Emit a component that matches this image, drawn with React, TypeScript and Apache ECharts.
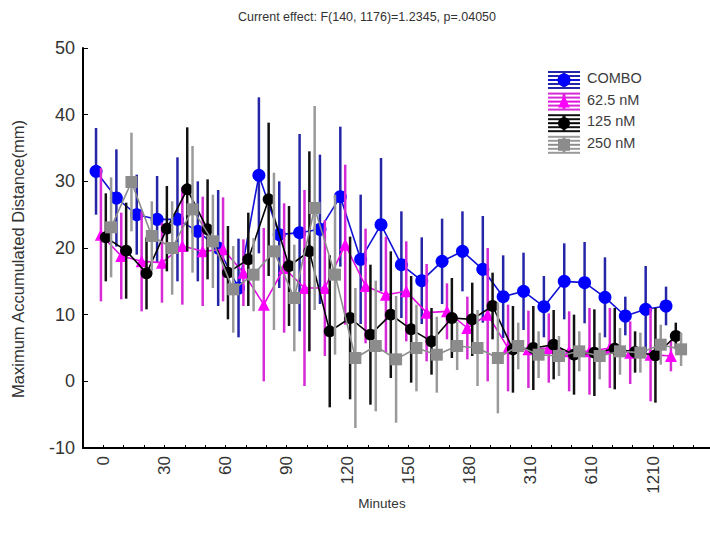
import React, { useEffect, useRef } from 'react';
import * as echarts from 'echarts';

// Time points (minutes); every third one is labelled on the axis
const minutes = ['0', '10', '20', '30', '40', '50', '60', '70', '80', '90', '100', '110', '120', '130', '140', '150', '160', '170', '180', '210', '250', '310', '410', '510', '610', '810', '1010', '1210', '1410'];

const yTicks = [-10, 0, 10, 20, 30, 40, 50];

const comboMean = [31.5, 27.5, 25.0, 24.3, 24.3, 22.5, 20.0, 14.0, 30.9, 22.0, 22.3, 22.8, 27.7, 18.3, 23.5, 17.5, 15.1, 18.0, 19.5, 16.8, 12.7, 13.5, 11.2, 15.0, 14.8, 12.6, 9.8, 10.8, 11.3];
const comboErr = [6.5, 7.3, 6.0, 6.5, 9.3, 7.5, 8.7, 7.4, 11.7, 8.0, 14.8, 11.2, 10.5, 9.7, 10.0, 8.0, 6.5, 6.4, 6.0, 8.0, 6.2, 5.8, 4.6, 5.7, 6.1, 6.0, 2.9, 6.5, 2.9];

const nm62Mean = [22.0, 18.8, 18.0, 17.8, 20.3, 19.5, 19.8, 16.3, 11.5, 17.0, 14.0, 14.0, 20.5, 14.3, 13.0, 13.5, 10.3, 10.5, 8.0, 10.0, 5.0, 4.8, 5.0, 4.5, 4.5, 5.0, 4.3, 4.0, 3.8];
const nm62Err = [10.0, 6.5, 7.5, 6.0, 8.8, 8.2, 7.8, 5.0, 11.5, 9.7, 14.7, 10.2, 12.0, 8.6, 8.7, 7.5, 7.3, 4.2, 4.7, 10.0, 6.5, 5.8, 5.2, 6.0, 6.5, 6.0, 4.7, 7.0, 2.3];

const nm125Mean = [21.6, 19.6, 16.2, 22.9, 28.8, 22.8, 16.3, 18.3, 27.3, 17.3, 19.5, 7.5, 9.5, 7.0, 10.0, 7.8, 6.0, 9.5, 9.3, 11.3, 4.8, 5.0, 5.5, 4.0, 4.3, 4.9, 4.4, 3.9, 6.8];
const nm125Err = [6.6, 7.2, 5.4, 6.4, 9.3, 7.5, 7.0, 7.0, 11.5, 9.0, 15.0, 11.4, 12.2, 10.5, 9.5, 8.0, 5.0, 6.0, 5.5, 5.0, 6.5, 6.3, 5.2, 6.0, 6.5, 6.1, 3.1, 7.1, 2.0];

const nm250Mean = [23.1, 29.9, 21.8, 20.0, 25.8, 21.0, 13.8, 16.0, 19.5, 12.5, 26.0, 16.0, 3.5, 5.3, 3.3, 5.0, 4.0, 5.3, 5.0, 3.5, 5.3, 4.0, 3.8, 4.5, 3.8, 4.5, 4.3, 5.5, 4.8];
const nm250Err = [7.5, 7.4, 5.2, 7.0, 9.5, 7.0, 6.5, 5.5, 11.8, 8.0, 15.3, 12.0, 10.5, 9.8, 9.5, 6.5, 5.7, 3.6, 5.7, 8.3, 3.5, 3.5, 3.0, 3.0, 3.5, 3.5, 3.0, 3.0, 2.5];

const FONT = 'Liberation Sans, Arial, Helvetica, sans-serif';

type Group = {
  name: string;
  mean: number[];
  err: number[];
  shift: number;
  symbol: string;
  size: number;
  marker: string;
  line: string;
  bar: string;
};

const groups: Group[] = [
  { name: 'COMBO', mean: comboMean, err: comboErr, shift: -0.36, symbol: 'circle', size: 13, marker: '#0000ff', line: '#1010d8', bar: '#2525a8' },
  { name: '62.5 nM', mean: nm62Mean, err: nm62Err, shift: -0.12, symbol: 'triangle', size: 12, marker: '#ff00ff', line: '#e010e0', bar: '#d52ad5' },
  { name: '125 nM', mean: nm125Mean, err: nm125Err, shift: 0.12, symbol: 'circle', size: 12, marker: '#000000', line: '#000000', bar: '#111111' },
  { name: '250 nM', mean: nm250Mean, err: nm250Err, shift: 0.38, symbol: 'rect', size: 12, marker: '#8c8c8c', line: '#8c8c8c', bar: '#9a9a9a' },
];

function buildLegend() {
  const out: any[] = [];
  groups.forEach((g, k) => {
    const ty = 78 + k * 21.6;
    const cy = ty + 2;
    [-8, -4, 0, 4, 8].forEach((d) => {
      out.push({
        type: 'line',
        shape: { x1: 548, y1: cy + d, x2: 580, y2: cy + d },
        style: { stroke: d === 0 ? g.line : g.bar, lineWidth: 2 },
      });
    });
    out.push({
      type: 'line',
      shape: { x1: 564, y1: cy - 8, x2: 564, y2: cy + 8 },
      style: { stroke: g.bar, lineWidth: 3 },
    });
    if (g.symbol === 'circle') {
      out.push({ type: 'circle', shape: { cx: 564, cy, r: g.size / 2 }, style: { fill: g.marker } });
    } else if (g.symbol === 'rect') {
      out.push({ type: 'rect', shape: { x: 564 - g.size / 2, y: cy - g.size / 2, width: g.size, height: g.size }, style: { fill: g.marker } });
    } else {
      const h = g.size / 2;
      out.push({ type: 'polygon', shape: { points: [[564, cy - h], [564 + h, cy + h], [564 - h, cy + h]] }, style: { fill: g.marker } });
    }
    out.push({
      type: 'text',
      x: 587,
      y: ty,
      style: { text: g.name, fontSize: 14.5, fontFamily: FONT, fill: '#3c3c3c', verticalAlign: 'middle', align: 'left' },
    });
  });
  return out;
}

export default function App() {
  const ref = useRef<HTMLDivElement>(null);

  useEffect(() => {
    const chart = echarts.init(ref.current!, undefined, { renderer: 'svg' });

    const series: any[] = [];
    groups.forEach((g, k) => {
      series.push({
        type: 'custom',
        name: g.name + ' CI',
        silent: true,
        z: 2 + k * 2,
        encode: { x: 0, y: [1, 2] },
        data: g.mean.map((m, i) => [i, m - g.err[i], m + g.err[i]]),
        renderItem: (_params: any, api: any) => {
          const x = api.value(0) + g.shift;
          const a = api.coord([x, api.value(1)]);
          const b = api.coord([x, api.value(2)]);
          return {
            type: 'line',
            shape: { x1: a[0], y1: a[1], x2: b[0], y2: b[1] },
            style: { stroke: g.bar, lineWidth: 2.5 },
          };
        },
      });
      series.push({
        type: 'line',
        name: g.name,
        z: 3 + k * 2,
        data: g.mean.map((m, i) => [i + g.shift, m]),
        symbol: g.symbol,
        symbolSize: g.size,
        showAllSymbol: true,
        itemStyle: { color: g.marker },
        lineStyle: { color: g.line, width: 1.6 },
      });
    });

    const option: any = {
      animation: false,
      backgroundColor: '#ffffff',
      textStyle: { fontFamily: FONT },
      grid: { left: 83, top: 48, right: 0, bottom: 91, containLabel: false },
      xAxis: {
        type: 'value',
        min: -1,
        max: 29.8,
        interval: 1,
        axisLine: { show: true, onZero: false, lineStyle: { color: '#000', width: 2 } },
        axisTick: { show: true, inside: true, length: 3, lineStyle: { color: '#000', width: 1 } },
        axisLabel: {
          rotate: 90,
          fontSize: 17,
          color: '#333',
          margin: 8,
          fontFamily: FONT,
          formatter: (v: number) => {
            const i = Math.round(v);
            if (Math.abs(v - i) > 1e-6 || i < 0 || i % 3 !== 0 || i >= minutes.length) return '';
            return minutes[i];
          },
        },
        splitLine: { show: false },
      },
      yAxis: {
        type: 'value',
        min: yTicks[0],
        max: yTicks[yTicks.length - 1],
        interval: 10,
        axisLine: { show: true, onZero: false, lineStyle: { color: '#000', width: 2 } },
        axisTick: { show: true, inside: true, length: 5, lineStyle: { color: '#000', width: 1 } },
        axisLabel: { fontSize: 18, color: '#333', margin: 8, fontFamily: FONT },
        splitLine: { show: false },
      },
      graphic: [
        {
          type: 'text',
          x: 367,
          y: 17,
          style: { text: 'Current effect: F(140, 1176)=1.2345, p=.04050', fontSize: 12.5, fontFamily: FONT, fill: '#333', align: 'center', verticalAlign: 'middle' },
        },
        {
          type: 'text',
          x: 18,
          y: 259,
          rotation: Math.PI / 2,
          style: { text: 'Maximum Accumulated Distance(mm)', fontSize: 16.5, fontFamily: FONT, fill: '#333', align: 'center', verticalAlign: 'middle' },
        },
        {
          type: 'text',
          x: 382,
          y: 503,
          style: { text: 'Minutes', fontSize: 13.5, fontFamily: FONT, fill: '#333', align: 'center', verticalAlign: 'middle' },
        },
        ...buildLegend(),
      ],
      series,
    };

    chart.setOption(option);
    return () => chart.dispose();
  }, []);

  return (
    <div
      ref={ref}
      style={{ position: 'fixed', left: 0, top: 0, width: 710, height: 539, background: '#fff' }}
    />
  );
}
